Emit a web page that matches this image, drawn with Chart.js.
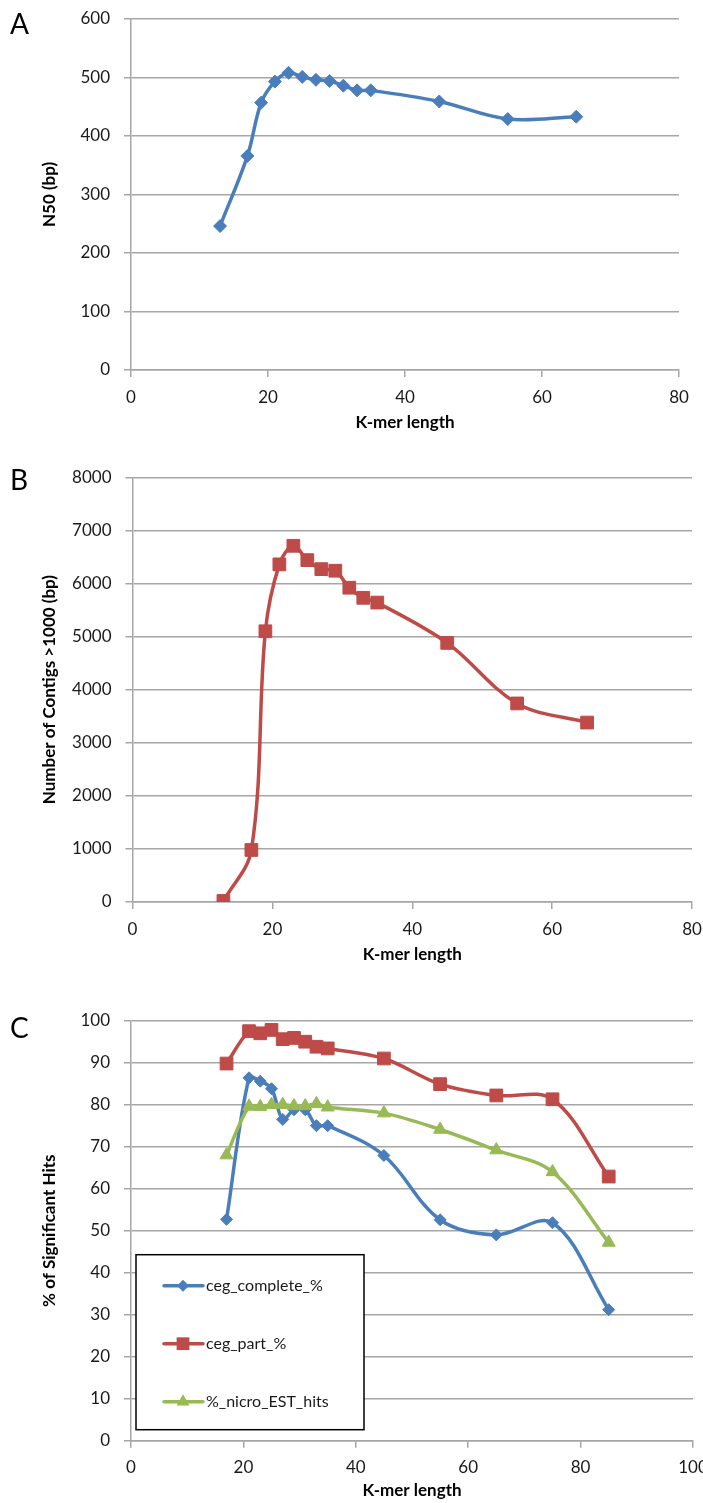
<!DOCTYPE html>
<html>
<head>
<meta charset="utf-8">
<script src="https://cdn.jsdelivr.net/npm/chart.js@4"></script>
<style>
  html, body { margin: 0; padding: 0; background: #fff; overflow: hidden; }
  .panel { position: absolute; left: 0; width: 703px; }
  .letter { position: absolute; left: 10px; font: 28px Lato, sans-serif; line-height: 28px; color: #000; }
</style>
</head>
<body>
<div class="panel" style="top:0;height:440px"><canvas id="chartA"></canvas></div>
<div class="panel" style="top:440px;height:540px"><canvas id="chartB"></canvas></div>
<div class="panel" style="top:980px;height:523px"><canvas id="chartC"></canvas></div>
<div class="letter" style="top:9px">A</div>
<div class="letter" style="top:465px">B</div>
<div class="letter" style="top:1013px">C</div>
<script>
// panel A and B: k-mer sweep
const kmerAB = [13, 17, 19, 21, 23, 25, 27, 29, 31, 33, 35, 45, 55, 65];
const n50 = [246, 366, 457, 493, 508, 501, 496, 494, 486, 478, 478, 459, 429, 433];
const contigs = [20, 980, 5100, 6360, 6710, 6440, 6270, 6240, 5920, 5730, 5640, 4880, 3740, 3380];

// panel C
const kmerC = [17, 21, 23, 25, 27, 29, 31, 33, 35, 45, 55, 65, 75, 85];
const cegComplete = [52.7, 86.4, 85.6, 83.8, 76.5, 78.8, 78.8, 75.0, 75.0, 67.9, 52.6, 49.0, 51.9, 31.2];
const cegPart = [89.8, 97.5, 97.0, 97.8, 95.6, 95.9, 95.0, 93.8, 93.4, 91.0, 84.9, 82.2, 81.3, 62.9];
const nicroEst = [68.0, 79.6, 79.5, 80.0, 80.0, 79.7, 79.7, 80.2, 79.4, 78.0, 74.1, 69.2, 64.0, 47.2];

const xTicksAB = [0, 20, 40, 60, 80];
const xTicksC = [0, 20, 40, 60, 80, 100];

const BLUE = '#4a7ebb';
const RED = '#be4b48';
const GREEN = '#98b954';
const GRID = '#a6a6a6';

const tickFont = { family: 'Lato, sans-serif', size: 17 };
const titleFont = { family: 'Lato, sans-serif', size: 17, weight: 'bold', lineHeight: 1.2 };

const toPoints = (xs, ys) => xs.map((x, i) => ({ x: x, y: ys[i] }));

function series(label, xs, ys, color, style, radius, order) {
  return {
    label: label,
    data: toPoints(xs, ys),
    borderColor: color,
    backgroundColor: color,
    borderWidth: 3.5,
    borderJoinStyle: 'round',
    borderCapStyle: 'round',
    tension: 0.35,
    pointStyle: style,
    pointRadius: radius,
    pointBorderWidth: 1,
    pointBorderColor: color,
    pointBackgroundColor: color,
    order: order || 0,
  };
}

function makeScales(o) {
  return {
    x: {
      type: 'linear',
      min: 0,
      max: o.xTicks[o.xTicks.length - 1],
      afterBuildTicks: (s) => { s.ticks = o.xTicks.map((v) => ({ value: v })); },
      ticks: { color: '#1a1a1a', font: tickFont, padding: 10, maxRotation: 0, callback: (v) => String(v) },
      grid: { drawOnChartArea: false, color: GRID, lineWidth: 1.5, tickLength: 7 },
      border: { color: GRID, width: 1.5 },
      title: { display: true, text: 'K-mer length', color: '#000', font: titleFont, padding: { top: 0, bottom: o.xTitlePad } },
      afterFit: (s) => { s.height = o.xHeight; s.paddingRight = 0; s.paddingLeft = 0; },
    },
    y: {
      min: 0,
      max: o.yMax,
      ticks: { stepSize: o.yStep, color: '#1a1a1a', font: tickFont, padding: 14, callback: (v) => String(v) },
      grid: { color: GRID, lineWidth: 1.5, tickLength: 7 },
      border: { color: GRID, width: 1.5 },
      title: { display: true, text: o.yTitle, color: '#000', font: titleFont, padding: { top: 39, bottom: 0 } },
      afterFit: (s) => { s.width = o.yWidth; s.paddingTop = 0; s.paddingBottom = 0; },
    },
  };
}

const baseOptions = (scales, padding) => ({
  responsive: true,
  maintainAspectRatio: false,
  animation: false,
  layout: { padding: padding },
  plugins: { legend: { display: false }, tooltip: { enabled: false } },
  scales: scales,
});

// legend box drawn inside the plot of panel C
function drawMarker(ctx, style, x, y, r) {
  ctx.beginPath();
  if (style === 'rectRot') {
    ctx.moveTo(x, y - r); ctx.lineTo(x + r, y); ctx.lineTo(x, y + r); ctx.lineTo(x - r, y);
  } else if (style === 'rect') {
    const s = r * Math.SQRT1_2;
    ctx.rect(x - s, y - s, 2 * s, 2 * s);
  } else {
    const w = r * Math.sqrt(3) / 2;
    ctx.moveTo(x, y - r); ctx.lineTo(x + w, y + r / 2); ctx.lineTo(x - w, y + r / 2);
  }
  ctx.closePath();
  ctx.fill();
}

const legendBox = {
  id: 'legendBox',
  afterDatasetsDraw(chart) {
    const { ctx, chartArea: a } = chart;
    const left = a.left + 5, right = a.left + 233;
    const top = a.top + 234, bottom = a.bottom - 11;
    ctx.save();
    ctx.fillStyle = '#fff';
    ctx.fillRect(left, top, right - left, bottom - top);
    ctx.strokeStyle = '#000';
    ctx.lineWidth = 1.5;
    ctx.strokeRect(left, top, right - left, bottom - top);
    const rowY = [31, 89, 147];
    chart.data.datasets.forEach((ds, i) => {
      const y = top + rowY[i];
      ctx.strokeStyle = ds.borderColor;
      ctx.fillStyle = ds.borderColor;
      ctx.lineWidth = 3.5;
      ctx.lineCap = 'round';
      ctx.beginPath();
      ctx.moveTo(a.left + 33, y);
      ctx.lineTo(a.left + 72, y);
      ctx.stroke();
      drawMarker(ctx, ds.pointStyle, a.left + 52, y, ds.pointRadius);
      ctx.fillStyle = '#1a1a1a';
      ctx.font = '16px Lato, sans-serif';
      ctx.textBaseline = 'middle';
      ctx.textAlign = 'left';
      ctx.fillText(ds.label, a.left + 75, y);
    });
    ctx.restore();
  },
};

new Chart(document.getElementById('chartA'), {
  type: 'line',
  data: { datasets: [series('N50', kmerAB, n50, BLUE, 'rectRot', 6.5)] },
  options: baseOptions(
    makeScales({ xTicks: xTicksAB, yMax: 600, yStep: 100, yTitle: 'N50 (bp)', yWidth: 131, xHeight: 70, xTitlePad: 7 }),
    { top: 19, right: 24, bottom: 0, left: 0 }
  ),
});

new Chart(document.getElementById('chartB'), {
  type: 'line',
  data: { datasets: [series('Contigs', kmerAB, contigs, RED, 'rect', 9)] },
  options: baseOptions(
    makeScales({ xTicks: xTicksAB, yMax: 8000, yStep: 1000, yTitle: 'Number of Contigs >1000 (bp)', yWidth: 132.5, xHeight: 78, xTitlePad: 15 }),
    { top: 37.3, right: 11, bottom: 0, left: 0 }
  ),
});

new Chart(document.getElementById('chartC'), {
  type: 'line',
  data: {
    datasets: [
      series('ceg_complete_%', kmerC, cegComplete, BLUE, 'rectRot', 6, 2),
      series('ceg_part_%', kmerC, cegPart, RED, 'rect', 9, 1),
      series('%_nicro_EST_hits', kmerC, nicroEst, GREEN, 'triangle', 7.5, 0),
    ],
  },
  options: baseOptions(
    makeScales({ xTicks: xTicksC, yMax: 100, yStep: 10, yTitle: '% of Significant Hits', yWidth: 131, xHeight: 62.3, xTitlePad: 2 }),
    { top: 40.7, right: 10, bottom: 0, left: 0 }
  ),
  plugins: [legendBox],
});
</script>
</body>
</html>
